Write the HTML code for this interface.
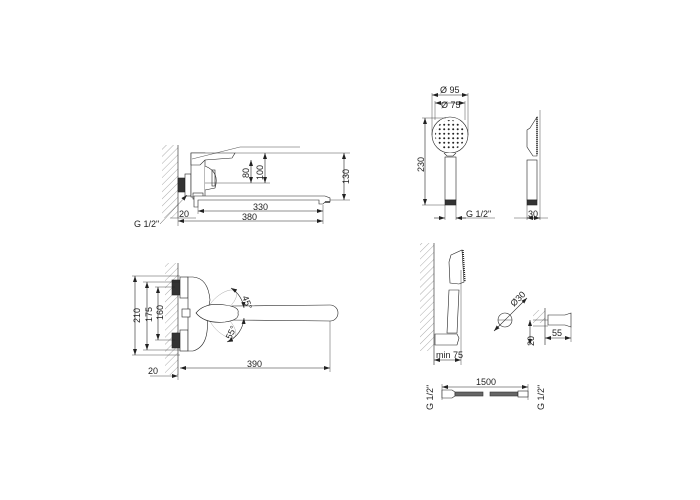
<!DOCTYPE html>
<html><head><meta charset="utf-8"><style>
html,body{margin:0;padding:0;background:#fff;}
svg{display:block;}
text{font-family:"Liberation Sans",sans-serif;font-size:9px;fill:#222;}
</style></head><body>
<svg width="700" height="500" viewBox="0 0 700 500" xmlns="http://www.w3.org/2000/svg">
<defs>
<pattern id="h" width="5" height="5" patternUnits="userSpaceOnUse" patternTransform="rotate(45)">
<line x1="0" y1="0" x2="0" y2="5" stroke="#888" stroke-width="0.7"/></pattern>
<pattern id="d" width="4.5" height="4.5" patternUnits="userSpaceOnUse" x="1" y="1">
<circle cx="2.2" cy="2.2" r="1" fill="#222"/></pattern>
<marker id="a" markerWidth="6" markerHeight="4" refX="6" refY="2" orient="auto-start-reverse" markerUnits="userSpaceOnUse">
<path d="M0,0 L6,2 L0,4z" fill="#222"/></marker>
</defs>
<g stroke="#222" stroke-width="0.6" fill="none">
<!-- ========== Top-left side view ========== -->
<rect x="162" y="145" width="16" height="73" fill="url(#h)" stroke="none"/>
<line x1="178" y1="145" x2="178" y2="218"/>
<rect x="178" y="178" width="7" height="14" fill="#333"/>
<rect x="185" y="174" width="6" height="22" fill="#fff"/>
<rect x="191" y="153" width="14" height="44" fill="#fff"/>
<path d="M191,153 L235,153 L232,158 L205,160 L200,165 L191,165z" fill="#fff"/>
<path d="M205,166 Q220,172 215,188 L205,190" fill="#fff"/>
<rect x="212" y="170" width="3" height="16"/>
<path d="M192,159 L240,147 L300,147" stroke-width="0.4"/>
<rect x="193" y="193" width="10" height="6" fill="#fff"/>
<path d="M194,196 L325,196 L330,198 L330,202 L325,202 L323,204 L319,204 L319,200 L198,200 L198,207 L194,207z" fill="#fff"/>
<line x1="325" y1="202" x2="330" y2="202" stroke-width="1.4"/>
<!-- dims -->
<line x1="235" y1="153" x2="350" y2="153" stroke-width="0.4"/>
<line x1="205" y1="183" x2="270" y2="183" stroke-width="0.4"/>
<line x1="330" y1="200" x2="350" y2="200" stroke-width="0.4"/>
<line x1="251" y1="160" x2="251" y2="183" marker-end="url(#a)" marker-start="url(#a)"/>
<line x1="265" y1="153" x2="265" y2="183" marker-end="url(#a)" marker-start="url(#a)"/>
<line x1="344" y1="153" x2="344" y2="200" marker-end="url(#a)" marker-start="url(#a)"/>
<line x1="198" y1="207" x2="198" y2="214" stroke-width="0.4"/>
<line x1="323" y1="205" x2="323" y2="224" stroke-width="0.4"/>
<line x1="178" y1="218" x2="178" y2="226" stroke-width="0.4"/>
<line x1="198" y1="211" x2="323" y2="211" marker-end="url(#a)" marker-start="url(#a)"/>
<line x1="178" y1="221" x2="323" y2="221" marker-end="url(#a)" marker-start="url(#a)"/>
<line x1="170" y1="218" x2="196" y2="218" stroke-width="0.4"/>
<line x1="160" y1="224" x2="187" y2="195" stroke-width="0.4" marker-end="url(#a)"/>

<!-- ========== Bottom-left front view ========== -->
<rect x="165" y="263" width="13" height="112" fill="url(#h)" stroke="none"/>
<line x1="178" y1="263" x2="178" y2="375"/>
<rect x="172" y="280" width="8" height="15" fill="#333"/>
<rect x="180" y="277" width="8" height="21" fill="#fff"/>
<rect x="172" y="333" width="8" height="15" fill="#333"/>
<rect x="180" y="330" width="8" height="21" fill="#fff"/>
<path d="M188,277 L193,277 Q208,278 210,300 L207,316 Q210,346 193,351 L188,351z" fill="#fff"/>
<rect x="182" y="309" width="8" height="8" fill="#fff"/>
<ellipse cx="222" cy="303" rx="18" ry="8" transform="rotate(-40 222 303)" stroke="#999" stroke-width="0.4"/>
<ellipse cx="222" cy="324" rx="18" ry="8" transform="rotate(45 222 324)" stroke="#999" stroke-width="0.4"/>
<path d="M232,306 L330,305 A8,8 0 0 1 330,321 L232,320z" fill="#fff"/>
<path d="M196,313 Q205,302 225,305 Q240,307 238,313 Q240,320 225,322 Q205,324 196,313z" fill="#fff"/>
<path d="M231,288 A28,28 0 0 1 244,308" marker-start="url(#a)" marker-end="url(#a)"/>
<path d="M244,318 A28,28 0 0 1 227,342" marker-start="url(#a)" marker-end="url(#a)"/>
<!-- dims -->
<line x1="132" y1="276" x2="180" y2="276" stroke-width="0.4"/>
<line x1="132" y1="355" x2="180" y2="355" stroke-width="0.4"/>
<line x1="143" y1="282" x2="180" y2="282" stroke-width="0.4"/>
<line x1="143" y1="350" x2="180" y2="350" stroke-width="0.4"/>
<line x1="155" y1="287" x2="175" y2="287" stroke-width="0.4"/>
<line x1="155" y1="340" x2="175" y2="340" stroke-width="0.4"/>
<line x1="135" y1="276" x2="135" y2="355" marker-end="url(#a)" marker-start="url(#a)"/>
<line x1="147" y1="282" x2="147" y2="350" marker-end="url(#a)" marker-start="url(#a)"/>
<line x1="158" y1="287" x2="158" y2="340" marker-end="url(#a)" marker-start="url(#a)"/>
<line x1="178" y1="375" x2="178" y2="380" stroke-width="0.4"/>
<line x1="330" y1="321" x2="330" y2="372" stroke-width="0.4"/>
<line x1="180" y1="368" x2="330" y2="368" marker-end="url(#a)" marker-start="url(#a)"/>
<line x1="150" y1="376" x2="178" y2="376" stroke-width="0.4" marker-end="url(#a)"/>

<!-- ========== Hand shower front ========== -->
<circle cx="450" cy="135" r="18" fill="#fff"/>
<circle cx="450" cy="135" r="15" fill="url(#d)" stroke="none"/>
<path d="M444,153 L447,156 L453,156 L456,153" fill="#fff"/>
<rect x="445" y="157" width="11" height="43" fill="#fff"/>
<rect x="445" y="200" width="11" height="5" fill="#333"/>
<line x1="432" y1="93" x2="432" y2="135" stroke-width="0.4"/>
<line x1="468" y1="93" x2="468" y2="135" stroke-width="0.4"/>
<line x1="435" y1="101" x2="435" y2="120" stroke-width="0.4"/>
<line x1="465" y1="101" x2="465" y2="120" stroke-width="0.4"/>
<line x1="432" y1="95" x2="468" y2="95" marker-end="url(#a)" marker-start="url(#a)"/>
<line x1="435" y1="103" x2="465" y2="103" marker-end="url(#a)" marker-start="url(#a)"/>
<line x1="422" y1="118" x2="446" y2="118" stroke-width="0.4"/>
<line x1="422" y1="205" x2="445" y2="205" stroke-width="0.4"/>
<line x1="425" y1="118" x2="425" y2="205" marker-end="url(#a)" marker-start="url(#a)"/>
<line x1="445" y1="205" x2="445" y2="220" stroke-width="0.4"/>
<line x1="456" y1="205" x2="456" y2="220" stroke-width="0.4"/>
<line x1="434" y1="218" x2="445" y2="218" marker-end="url(#a)"/>
<line x1="466" y1="218" x2="456" y2="218" marker-end="url(#a)"/>
<line x1="456" y1="218" x2="495" y2="218" stroke-width="0.4"/>
<!-- side -->
<path d="M537,117 L530,128 L527,130 L527,147 L533,156 L537,156z" fill="#fff"/>
<line x1="537" y1="117" x2="537" y2="155" stroke-width="1.5" stroke-dasharray="1,1"/>
<rect x="527" y="160" width="10" height="40" fill="#fff"/>
<rect x="527" y="200" width="10" height="5" fill="#333"/>
<line x1="527" y1="205" x2="527" y2="220" stroke-width="0.4"/>
<line x1="540" y1="110" x2="540" y2="220" stroke-width="0.4"/>
<line x1="527" y1="218" x2="540" y2="218" marker-end="url(#a)" marker-start="url(#a)"/>
<line x1="514" y1="218" x2="548" y2="218" stroke-width="0.4"/>

<!-- ========== wall holder view ========== -->
<rect x="420" y="243" width="14" height="108" fill="url(#h)" stroke="none"/>
<line x1="434" y1="243" x2="434" y2="365"/>
<path d="M451,255 L462,250 L464,282 L459,284 L450,283 L449,262z" fill="#fff"/>
<line x1="463" y1="250" x2="465" y2="282" stroke-width="1.4" stroke-dasharray="1,1"/>
<path d="M449,290 L459,290 L457,333 L447,333z" fill="#fff"/>
<path d="M435,334 L457,334 L459,338 L457,345 L435,345z" fill="#fff"/>
<line x1="461" y1="270" x2="461" y2="365" stroke-width="0.4"/>
<line x1="434" y1="360" x2="461" y2="360" marker-end="url(#a)" marker-start="url(#a)"/>
<!-- o30 -->
<circle cx="505" cy="320" r="7" fill="#fff"/>
<line x1="498" y1="320" x2="512" y2="320" stroke-width="0.4"/>
<line x1="494" y1="331" x2="527" y2="298" marker-end="url(#a)" marker-start="url(#a)"/>
<!-- holder side -->
<rect x="533" y="310" width="12" height="13" fill="url(#h)" stroke="none"/>
<line x1="533" y1="320" x2="548" y2="320" stroke-width="0.4"/>
<line x1="533" y1="326" x2="548" y2="326" stroke-width="0.4"/>
<line x1="545" y1="308" x2="545" y2="345"/>
<path d="M548,315 L565,315 L571,313 L571,327 L565,325 L548,325z" fill="#fff"/>
<line x1="571" y1="327" x2="571" y2="342" stroke-width="0.4"/>
<line x1="545" y1="338" x2="571" y2="338" marker-end="url(#a)" marker-start="url(#a)"/>
<line x1="530" y1="320" x2="530" y2="345" marker-end="url(#a)" marker-start="url(#a)"/>
<!-- hose -->
<line x1="442" y1="387" x2="528" y2="387" marker-end="url(#a)" marker-start="url(#a)"/>
<line x1="442" y1="384" x2="442" y2="400" stroke-width="0.4"/>
<line x1="528" y1="384" x2="528" y2="400" stroke-width="0.4"/>
<path d="M442,390 L452,390 L455,392 L455,396 L452,398 L442,398z" fill="#fff"/>
<rect x="455" y="392" width="28" height="4" fill="#666" stroke="#333"/>
<rect x="490" y="392" width="28" height="4" fill="#666" stroke="#333"/>
<rect x="518" y="391" width="10" height="6" fill="#fff"/>
</g>
<text transform="translate(249,178) rotate(-90)">80</text>
<text transform="translate(263,180) rotate(-90)">100</text>
<text transform="translate(349,184) rotate(-90)">130</text>
<text x="253" y="210" font-size="10">330</text>
<text x="242" y="220" font-size="10">380</text>
<text x="179" y="217" font-size="10">20</text>
<text x="134" y="227" font-size="10">G 1/2"</text>
<text transform="translate(140,323) rotate(-90)" font-size="10">210</text>
<text transform="translate(152,322) rotate(-90)" font-size="10">175</text>
<text transform="translate(163,320) rotate(-90)" font-size="10">160</text>
<text x="148" y="374" font-size="10">20</text>
<text x="247" y="367" font-size="10">390</text>
<text transform="translate(242,297) rotate(70)" font-size="9">45°</text>
<text transform="translate(231,340) rotate(-65)" font-size="9">55°</text>
<text x="440" y="93" font-size="10">Ø 95</text>
<text x="441" y="108" font-size="10">Ø 75</text>
<text transform="translate(424,172) rotate(-90)" font-size="10">230</text>
<text x="466" y="217" font-size="10">G 1/2"</text>
<text x="528" y="217" font-size="10">30</text>
<text x="436" y="358" font-size="10">min 75</text>
<text transform="translate(514,307) rotate(-45)" font-size="10">Ø30</text>
<text x="552" y="336" font-size="10">55</text>
<text transform="translate(534,346) rotate(-90)" font-size="10">20</text>
<text x="476" y="385" font-size="10">1500</text>
<text transform="translate(433,410) rotate(-90)" font-size="10">G 1/2"</text>
<text transform="translate(544,410) rotate(-90)" font-size="10">G 1/2"</text>
</svg>
</body></html>
